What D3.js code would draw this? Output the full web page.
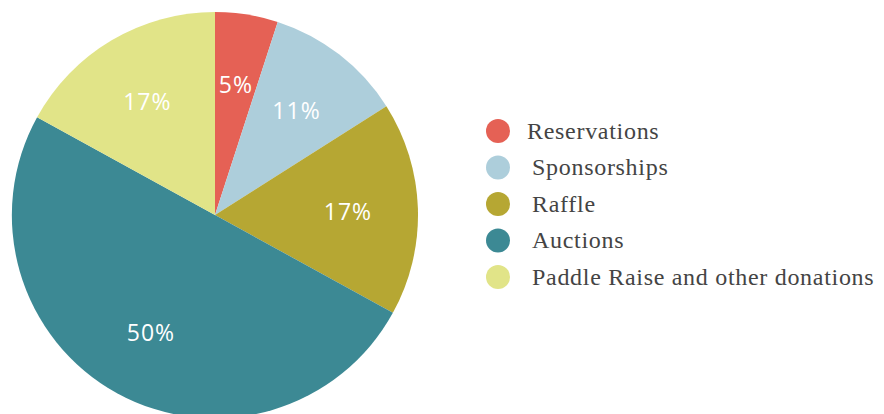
<!DOCTYPE html>
<html>
<head>
<meta charset="utf-8">
<script src="https://cdn.jsdelivr.net/npm/d3@7"></script>
<style>
  body { margin: 0; background: #fff; }
  svg { display: block; }
</style>
</head>
<body>
<svg id="chart"></svg>
<script>
const width = 884;
const height = 414;

const categories = ["Reservations", "Sponsorships", "Raffle", "Auctions", "Paddle Raise and other donations"];
const shares = [5, 11, 17, 50, 17];
const colors = ["#e56155", "#adcedb", "#b6a733", "#3c8994", "#e1e488"];

const cx = 215, cy = 215;
const radius = 203;

const svg = d3.select("#chart")
  .attr("width", width)
  .attr("height", height);

const data = categories.map((name, i) => ({name, value: shares[i], color: colors[i]}));

const pie = d3.pie()
  .sort(null)
  .value(d => d.value);

const arc = d3.arc()
  .innerRadius(0)
  .outerRadius(radius);

const labelArc = d3.arc()
  .innerRadius(133)
  .outerRadius(133);

const arcs = pie(data);

const g = svg.append("g")
  .attr("transform", `translate(${cx},${cy})`);

g.selectAll("path")
  .data(arcs)
  .join("path")
  .attr("fill", d => d.data.color)
  .attr("d", arc);

g.selectAll("text")
  .data(arcs)
  .join("text")
  .attr("transform", d => `translate(${labelArc.centroid(d)})`)
  .attr("text-anchor", "middle")
  .attr("dy", "0.4em")
  .attr("fill", "#fff")
  .style("font-family", "'Open Sans', sans-serif")
  .style("font-size", "23px")
  .style("letter-spacing", "1px")
  .text(d => d.data.value + "%");

// legend
const legend = svg.append("g")
  .attr("transform", "translate(498,131)");

const item = legend.selectAll("g")
  .data(data)
  .join("g")
  .attr("transform", (d, i) => `translate(0,${i * 36.5})`);

item.append("circle")
  .attr("r", 12)
  .attr("fill", d => d.color);

item.append("text")
  .attr("x", (d, i) => i === 0 ? 29 : 34)
  .attr("dy", "0.33em")
  .attr("fill", "#444")
  .style("font-family", "'Liberation Serif', serif")
  .style("font-size", "24px")
  .style("letter-spacing", "0.7px")
  .text(d => d.name);
</script>
</body>
</html>
